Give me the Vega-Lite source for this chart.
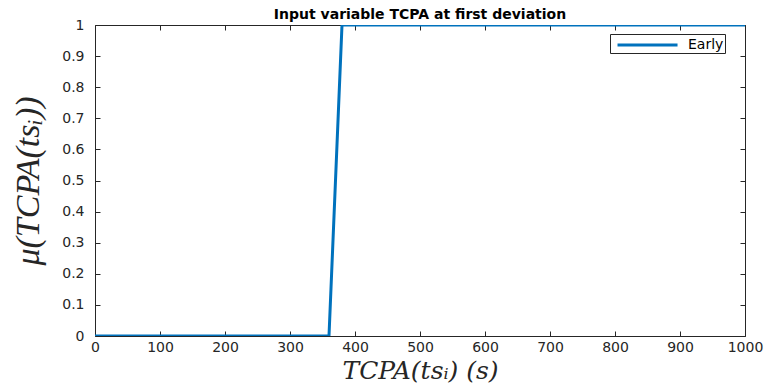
{
  "$schema": "https://vega.github.io/schema/vega-lite/v6.json",
  "width": 650,
  "height": 311,
  "autosize": "none",
  "padding": {"left": 95, "top": 25, "right": 22, "bottom": 48},
  "background": "white",
  "config": {
    "view": {"stroke": null},
    "axis": {"grid": false, "domainColor": "#262626", "tickColor": "#262626", "labelColor": "#262626", "labelFont": "DejaVu Sans", "labelFontSize": 14, "labelFlush": false, "tickSize": -5, "domainWidth": 1, "tickWidth": 1}
  },
  "title": {"text": "Input variable TCPA at first deviation", "font": "DejaVu Sans", "fontSize": 14, "fontWeight": "bold", "color": "#000000", "offset": -4},
  "data": {"values": [
    {"t": 0, "mu": 0, "set": "Early"},
    {"t": 360, "mu": 0, "set": "Early"},
    {"t": 380, "mu": 1, "set": "Early"},
    {"t": 1000, "mu": 1, "set": "Early"}
  ]},
  "layer": [
    {
      "mark": {"type": "line", "strokeWidth": 3, "clip": true},
      "encoding": {
        "x": {"field": "t", "type": "quantitative", "scale": {"domain": [0, 1000], "nice": false},
          "axis": {"orient": "bottom", "values": [0,100,200,300,400,500,600,700,800,900,1000], "format": "d", "labelPadding": 9, "title": "TCPA(tsᵢ) (s)", "titleFont": "DejaVu Serif", "titleFontStyle": "italic", "titleFontWeight": "normal", "titleFontSize": 25, "titleColor": "#262626", "titlePadding": 4}},
        "y": {"field": "mu", "type": "quantitative", "scale": {"domain": [0, 1], "nice": false},
          "axis": {"orient": "left", "values": [0,0.1,0.2,0.3,0.4,0.5,0.6,0.7,0.8,0.9,1], "format": "~g", "labelPadding": 16, "title": "μ(TCPA(tsᵢ))", "titleFont": "Liberation Serif", "titleFontStyle": "italic", "titleFontWeight": "normal", "titleFontSize": 34, "titleColor": "#262626", "titlePadding": 16}},
        "color": {"field": "set", "type": "nominal", "scale": {"range": ["#0072BD"]},
          "legend": {"orient": "none", "legendX": 515, "legendY": 9, "title": null, "symbolType": "M-0.41,0H6.65", "symbolStrokeWidth": 3, "symbolStrokeColor": "#0072BD", "symbolFillColor": "transparent", "symbolSize": 289, "labelFont": "DejaVu Sans", "labelFontSize": 14, "labelColor": "#000000", "strokeColor": "#262626", "fillColor": "white", "padding": 1, "labelOffset": 57}}
      }
    },
    {
      "mark": {"type": "line", "opacity": 0},
      "encoding": {
        "x": {"field": "t", "type": "quantitative", "axis": {"orient": "top", "values": [0,100,200,300,400,500,600,700,800,900,1000], "labels": false, "title": null}},
        "y": {"field": "mu", "type": "quantitative", "axis": {"orient": "right", "values": [0,0.1,0.2,0.3,0.4,0.5,0.6,0.7,0.8,0.9,1], "labels": false, "title": null}}
      }
    }
  ],
  "resolve": {"axis": {"x": "independent", "y": "independent"}}
}
